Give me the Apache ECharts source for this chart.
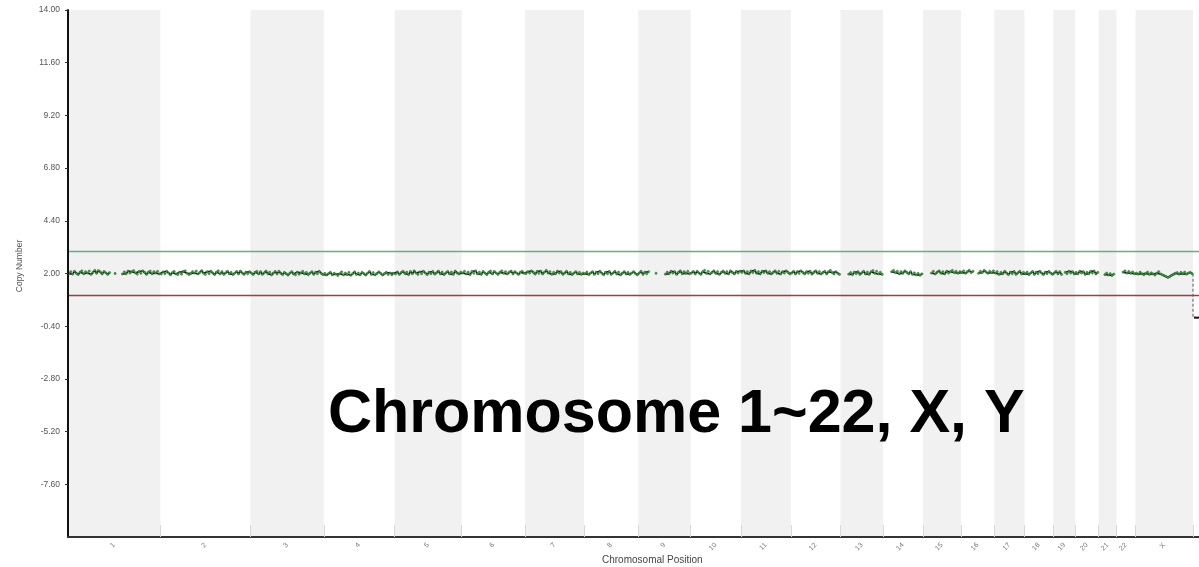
<!DOCTYPE html>
<html>
<head>
<meta charset="utf-8">
<title>Copy Number by Chromosomal Position</title>
<script src="https://cdn.jsdelivr.net/npm/echarts@6/dist/echarts.min.js"></script>
<style>
  html, body { margin: 0; padding: 0; background: #ffffff; }
  #chart { width: 1199px; height: 567px; }
</style>
</head>
<body>
<div id="chart"></div>
<script>
// Chromosome names and lengths (Mb, hg19)
const chromNames = ['1','2','3','4','5','6','7','8','9','10','11','12','13','14','15','16','17','18','19','20','21','22','X','Y'];
const chromLengthsMb = [249.25,243.20,198.02,191.15,180.92,171.12,159.14,146.36,141.21,135.53,135.01,133.85,115.17,107.35,102.53,90.35,81.20,78.08,59.13,63.03,48.13,51.30,155.27,59.37];

// Y axis tick values
const yTicks = [-7.6, -5.2, -2.8, -0.4, 2.0, 4.4, 6.8, 9.2, 11.6, 14.0];

// Gain / loss threshold lines
const gainThreshold = 3.0;
const lossThreshold = 1.0;

// Copy-number segments per chromosome, evenly spaced along each chromosome (null = no probes)
const cn1 = [2.00,2.08,1.97,2.10,2.01,1.95,2.06,2.12,1.99,2.08,2.02,2.11,1.96,2.05,2.14,2.01,2.13,2.07,1.98,2.09,2.03,1.96,2.04,null,null,2.00,null,null,null,1.98,2.07,1.99,2.11,2.02,2.08,2.13,2.03,1.97,2.09,2.01,2.12,2.05,1.96,2.06,2.11,1.99,2.08,2.02,2.10,1.98];
const cn2 = [1.98,2.07,1.99,2.10,2.02,1.94,2.04,2.09,1.98,1.95,2.06,1.97,2.09,2.12,2.01,1.95,2.00,2.08,2.02,2.11,1.98,2.05,2.13,2.01,1.96,2.08,1.99,2.10,2.02,1.95,2.06,2.12,1.98,2.08,1.96,2.03,2.10,1.99,2.05,1.95,2.02,2.09,1.98,2.11,2.02,1.96,2.06,1.99,2.08];
const cn3 = [2.02,1.95,2.06,2.10,1.98,2.08,1.96,2.03,2.11,1.99,2.06,1.94,2.02,2.09,1.98,2.10,2.01,1.95,2.05,1.99,1.93,2.02,2.08,1.98,1.94,2.06,1.97,2.03,2.10,1.99,2.05,1.95,2.02,2.08,1.96,2.06,1.99,2.10,2.01,1.95];
const cn4 = [2.00,1.93,1.99,2.05,1.94,2.01,1.97,1.91,1.99,2.07,1.94,2.02,1.96,2.05,1.92,1.99,2.07,1.96,2.02,1.94,2.05,1.99,1.93,2.02,2.09,1.96,2.04,1.94,1.99,2.07,2.01,1.93,1.99,2.05,1.96,2.02,1.94,2.01];
const cn5 = [1.98,2.07,1.96,2.04,2.10,2.00,2.06,1.95,2.09,1.99,2.12,2.02,1.96,2.07,1.99,2.10,2.02,1.95,2.06,1.99,2.09,1.97,2.03,2.11,1.99,2.06,1.95,2.03,2.09,1.98,2.06,1.96,2.11,2.02,1.98,2.06];
const cn6 = [2.02,2.10,1.98,2.06,1.95,2.09,2.01,2.12,1.98,2.06,1.96,2.09,2.02,1.95,2.06,2.11,1.98,2.09,2.02,1.96,2.06,2.12,2.01,2.08,1.98,2.06,2.11,1.98,2.08,2.02,1.96,2.06,2.10,2.01];
const cn7 = [2.00,2.08,2.02,2.12,2.05,1.97,2.09,2.01,2.11,1.98,2.06,2.14,2.02,2.08,1.96,2.05,1.99,2.10,2.02,2.08,1.96,2.02,2.10,1.98,2.05,1.95,2.02,2.08,1.98,2.05,1.96,2.02];
const cn8 = [1.99,2.06,1.95,2.02,2.08,1.96,2.06,1.99,2.10,2.01,1.94,2.06,1.99,2.09,1.96,2.02,2.10,1.98,2.06,1.94,2.02,2.08,1.98,2.05,1.96,2.02,2.08,1.99,1.94];
const cn9 = [2.02,2.10,1.96,2.06,1.99,2.08,null,null,null,2.01,null,null,null,null,1.97,2.06,1.99,2.10,2.02,2.08,1.96,2.05,2.12,1.99,2.08,2.01,2.10,1.99];
const cn10 = [2.02,2.09,1.98,2.10,2.02,1.96,2.08,2.14,2.01,2.10,1.98,2.05,2.12,2.01,2.08,1.96,2.05,2.11,2.01,2.08,1.98,2.12,2.05,1.98,2.09,2.02,2.10];
const cn11 = [2.05,2.12,2.01,2.08,1.98,2.11,2.04,2.14,2.01,2.08,1.98,2.10,2.04,2.12,2.01,2.08,1.98,2.05,2.12,2.01,2.10,1.98,2.08,2.02,2.12,2.05,1.98];
const cn12 = [2.02,2.10,1.98,2.08,2.01,2.12,2.05,1.98,2.08,2.01,2.10,1.97,2.05,2.12,2.01,2.08,1.98,2.05,2.10,1.98,2.08,2.14,2.04,1.98,2.08,2.01,1.96];
const cn13 = [null,null,null,null,1.97,2.04,1.95,2.06,1.99,2.08,1.96,2.03,2.10,1.98,2.06,1.96,2.08,2.13,2.01,2.10,1.98,2.05,1.96];
const cn14 = [null,null,null,null,2.08,2.14,2.04,2.10,1.99,2.08,2.01,2.12,2.05,1.98,2.08,1.96,2.03,1.94,2.00,1.92,1.98];
const cn15 = [null,null,null,null,2.02,2.10,1.98,2.06,2.12,2.01,2.08,1.98,2.10,2.02,2.08,2.14,2.04,2.10,2.01,2.08];
const cn16 = [2.05,2.12,2.01,2.08,2.14,2.04,2.10,null,null,2.01,2.10,2.04,2.14,2.07,2.01,2.10,2.04,2.12];
const cn17 = [2.02,2.08,1.96,2.05,1.99,2.10,2.02,1.95,2.06,1.99,2.09,1.96,2.03,2.10,1.98,2.05];
const cn18 = [1.99,2.06,1.95,2.03,2.09,1.96,2.06,1.99,2.10,2.02,1.95,2.06,1.99,2.09,2.02,1.96];
const cn19 = [2.02,2.10,1.98,2.08,1.96,null,2.05,1.99,2.10,2.02,2.08,1.98];
const cn20 = [2.05,1.99,2.10,2.02,2.08,1.96,2.05,1.99,2.09,2.02,2.11,1.98,2.05];
const cn21 = [null,null,null,1.95,2.02,1.93,1.99,1.91,1.97,null];
const cn22 = [null,null,null,2.06,2.12,2.02,2.09,2.01,2.07,1.99];
const cnX = [2.02,1.97,2.06,1.99,1.94,2.00,2.06,1.96,2.03,1.98,1.93,2.01,2.08,1.98,1.94,1.90,1.86,1.82,1.86,1.92,1.96,2.01,2.04,1.97,2.05,1.99,2.06,1.97,2.02,2.05,1.99];
const cnY = [0.00,0.01,-0.01,0.00,0.01,0.00,-0.01,0.00,0.01,0.00,0.00,-0.01];

const autosomeAndX = [cn1,cn2,cn3,cn4,cn5,cn6,cn7,cn8,cn9,cn10,cn11,cn12,cn13,cn14,cn15,cn16,cn17,cn18,cn19,cn20,cn21,cn22,cnX];

// Chromosome start/end offsets along the genome axis
const chromStarts = [];
const chromEnds = [];
let acc = 0;
chromLengthsMb.forEach(len => { chromStarts.push(acc); acc += len; chromEnds.push(acc); });
const genomeLength = acc;
const chromCenters = chromStarts.map((s, i) => s + chromLengthsMb[i] / 2);

function toPoints(values, chromIndex) {
  const start = chromStarts[chromIndex];
  const step = chromLengthsMb[chromIndex] / values.length;
  return values.map((v, i) => [start + (i + 0.5) * step, v === null ? '-' : v]);
}

const mainPoints = [];
autosomeAndX.forEach((vals, ci) => { toPoints(vals, ci).forEach(p => mainPoints.push(p)); });
const yIndex = chromNames.indexOf('Y');
const yPoints = toPoints(cnY, yIndex);

// Dashed step joining the end of X to the start of Y at the boundary
const xyBoundary = chromStarts[yIndex];
const connectorPoints = [[xyBoundary, cnX[cnX.length - 1]], [xyBoundary, cnY[0]]];

// Horizontal threshold lines across the whole genome
const gainLine = [[0, gainThreshold], [genomeLength, gainThreshold]];
const lossLine = [[0, lossThreshold], [genomeLength, lossThreshold]];

// Alternating shaded chromosome bands (odd-numbered positions shaded)
const bandAreas = [];
chromNames.forEach((name, i) => {
  if (i % 2 === 0) bandAreas.push([{ xAxis: chromStarts[i] }, { xAxis: chromEnds[i] }]);
});

const chart = echarts.init(document.getElementById('chart'), null, { renderer: 'canvas' });
const baseFont = '"Liberation Sans", Arial, sans-serif';

chart.setOption({
  animation: false,
  backgroundColor: '#ffffff',
  // the plot runs on past the right edge of the canvas; Y is only partly visible
  grid: { left: 68, width: 1147, top: 10, bottom: 30, outerBoundsMode: 'none', containLabel: false },
  xAxis: {
    type: 'value',
    min: 0,
    max: genomeLength,
    z: 10,
    axisLine: { onZero: false, lineStyle: { color: '#333333', width: 2 } },
    axisTick: { show: true, inside: true, length: 12, customValues: chromEnds.slice(0, -1), lineStyle: { color: '#d8d8d8', width: 1 } },
    axisLabel: {
      customValues: chromCenters,
      rotate: 45,
      margin: 7,
      fontSize: 7,
      color: '#777777',
      fontFamily: baseFont,
      formatter: function (v) {
        let best = 0, bestD = Infinity;
        chromCenters.forEach((c, i) => { const d = Math.abs(c - v); if (d < bestD) { bestD = d; best = i; } });
        return chromNames[best];
      }
    },
    splitLine: { show: false }
  },
  yAxis: {
    type: 'value',
    min: -10,
    max: 14,
    z: 10,
    axisLine: { show: true, lineStyle: { color: '#111111', width: 2 } },
    axisTick: { show: true, length: 3, customValues: yTicks, lineStyle: { color: '#333333' } },
    axisLabel: {
      customValues: yTicks,
      fontSize: 8.5,
      color: '#555555',
      margin: 8,
      fontFamily: baseFont,
      formatter: v => v.toFixed(2)
    },
    splitLine: { show: false }
  },
  graphic: [
    {
      type: 'text',
      left: 602, top: 555,
      style: { text: 'Chromosomal Position', fontSize: 10, fill: '#444444', fontFamily: baseFont }
    },
    {
      type: 'text',
      x: 20, y: 266,
      rotation: Math.PI / 2,
      style: { text: 'Copy Number', fontSize: 8.5, fill: '#555555', fontFamily: baseFont, align: 'center', verticalAlign: 'middle' }
    },
    {
      type: 'text',
      x: 328, y: 415,
      z: 100,
      style: { text: 'Chromosome 1~22, X, Y', fontSize: 61, fontWeight: 'bold', fill: '#000000', fontFamily: baseFont, align: 'left', verticalAlign: 'middle' }
    }
  ],
  series: [
    {
      name: 'bands',
      type: 'line',
      data: [],
      silent: true,
      z: 0,
      markArea: { silent: true, itemStyle: { color: '#f1f1f1' }, data: bandAreas }
    },
    {
      name: 'gain threshold',
      type: 'line',
      data: gainLine,
      silent: true,
      showSymbol: false,
      color: '#5cb57c',
      lineStyle: { color: '#5cb57c', width: 1.4 },
      z: 3
    },
    {
      name: 'loss threshold',
      type: 'line',
      data: lossLine,
      silent: true,
      showSymbol: false,
      color: '#9c3f45',
      lineStyle: { color: '#9c3f45', width: 1.4 },
      z: 3
    },
    {
      name: 'Copy Number',
      type: 'line',
      data: mainPoints,
      connectNulls: false,
      showSymbol: true,
      showAllSymbol: true,
      symbol: 'circle',
      symbolSize: 2.3,
      itemStyle: { color: '#3f9e4a', borderColor: '#1d4a1d', borderWidth: 0.4 },
      lineStyle: { color: '#0e0e0e', width: 1.5 },
      z: 5
    },
    {
      name: 'X-Y step',
      type: 'line',
      data: connectorPoints,
      showSymbol: false,
      lineStyle: { color: '#55556e', width: 1, type: [3, 2] },
      z: 4
    },
    {
      name: 'Y',
      type: 'line',
      data: yPoints,
      showSymbol: false,
      lineStyle: { color: '#111111', width: 2 },
      z: 5
    }
  ]
});
</script>
</body>
</html>
